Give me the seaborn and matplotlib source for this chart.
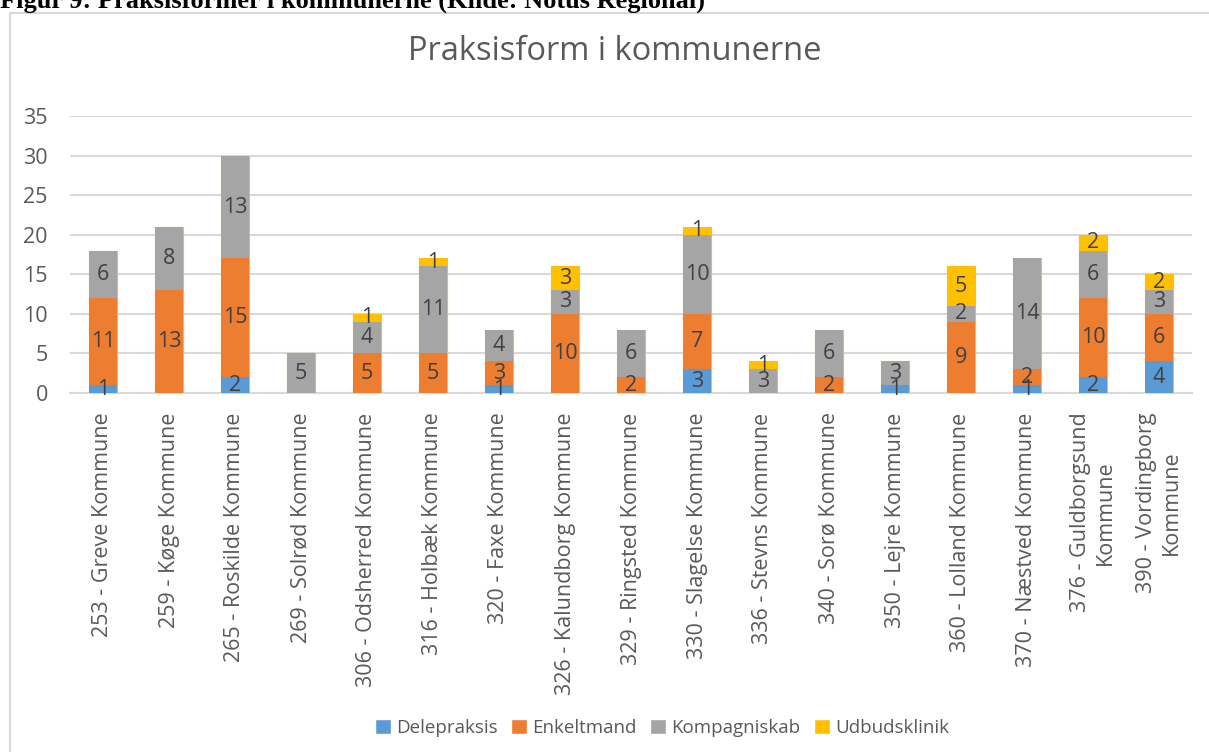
import numpy as np
import pandas as pd
import seaborn as sns
import matplotlib.pyplot as plt
from matplotlib.patches import Rectangle, Patch

# data
kommuner = ['253 - Greve Kommune', '259 - Køge Kommune', '265 - Roskilde Kommune',
            '269 - Solrød Kommune', '306 - Odsherred Kommune', '316 - Holbæk Kommune',
            '320 - Faxe Kommune', '326 - Kalundborg Kommune', '329 - Ringsted Kommune',
            '330 - Slagelse Kommune', '336 - Stevns Kommune', '340 - Sorø Kommune',
            '350 - Lejre Kommune', '360 - Lolland Kommune', '370 - Næstved Kommune',
            '376 - Guldborgsund\nKommune', '390 - Vordingborg\nKommune']
delepraksis = [1, 0, 2, 0, 0, 0, 1, 0, 0, 3, 0, 0, 1, 0, 1, 2, 4]
enkeltmand = [11, 13, 15, 0, 5, 5, 3, 10, 2, 7, 0, 2, 0, 9, 2, 10, 6]
kompagniskab = [6, 8, 13, 5, 4, 11, 4, 3, 6, 10, 3, 6, 3, 2, 14, 6, 3]
udbudsklinik = [0, 0, 0, 0, 1, 1, 0, 3, 0, 1, 1, 0, 0, 5, 0, 2, 2]

serier = ['Delepraksis', 'Enkeltmand', 'Kompagniskab', 'Udbudsklinik']
farver = ['#5B9BD5', '#ED7D31', '#A5A5A5', '#FFC000']

df = pd.DataFrame({'kommune': kommuner, 'Delepraksis': delepraksis,
                   'Enkeltmand': enkeltmand, 'Kompagniskab': kompagniskab,
                   'Udbudsklinik': udbudsklinik})
kum = df[serier].cumsum(axis=1)

sns.set_theme(style='white')
plt.rcParams['font.family'] = ['Open Sans', 'DejaVu Sans']

fig = plt.figure(figsize=(12.09, 7.52), dpi=100)
ax = fig.add_axes([70 / 1209, 1 - 393 / 752, (1192 - 70) / 1209, (393 - 116) / 752])

# stacked bars: draw cumulative totals from the top series down
for serie, farve in reversed(list(zip(serier, farver))):
    sns.barplot(x=df['kommune'], y=kum[serie], color=farve, width=0.41,
                saturation=1, ax=ax, zorder=3,
                linewidth=0.8 if serie == 'Udbudsklinik' else 0,
                edgecolor=farve)

# segment labels
for i in range(len(df)):
    for serie in serier:
        v = df.loc[i, serie]
        if v > 0:
            ax.text(i, kum.loc[i, serie] - v / 2, str(v), ha='center', va='center',
                    fontsize=15.5, color='#404040', zorder=4)

ax.set_ylim(0, 35)
ax.set_xlim(-0.5, len(df) - 0.5)
ax.set_yticks(range(0, 36, 5))
ax.grid(axis='y', color='#d9d9d9', linewidth=1.5, zorder=0)
ax.set_axisbelow(True)
for side in ['top', 'right', 'left']:
    ax.spines[side].set_visible(False)
ax.spines['bottom'].set_color('#d9d9d9')
ax.spines['bottom'].set_linewidth(1.5)
ax.tick_params(axis='both', length=0, labelsize=15.5, labelcolor='#595959')
ax.tick_params(axis='y', pad=16)
ax.tick_params(axis='x', pad=14)
ax.set_xticks(range(len(df)))
ax.set_xticklabels(kommuner, rotation=90, multialignment='center')
ax.set_xlabel('')
ax.set_ylabel('')

fig.text(615 / 1209, 1 - 52 / 752, 'Praksisform i kommunerne', ha='center', va='center',
         fontsize=23.5, color='#595959')

handles = [Patch(facecolor=f, label=s) for s, f in zip(serier, farver)]
fig.legend(handles=handles, loc='center', bbox_to_anchor=(662 / 1209, 1 - 728 / 752),
           ncol=4, frameon=False, fontsize=13.5, handlelength=0.85, handleheight=0.85,
           columnspacing=0.7, handletextpad=0.3, labelcolor='#595959')

# chart border and document caption above it
fig.patches.append(Rectangle((10 / 1209, -0.01), 1.02, 1 - 13 / 752 + 0.01,
                             transform=fig.transFigure, fill=False,
                             edgecolor='#d9d9d9', linewidth=1.5))
fig.text(0.0, 1 - 8 / 752, 'Figur 9: Praksisformer i kommunerne (Kilde: Notus Regional)',
         ha='left', va='baseline', fontsize=19, fontweight='bold',
         family=['Liberation Serif'], color='black')

fig.savefig('out.png', dpi=100)
